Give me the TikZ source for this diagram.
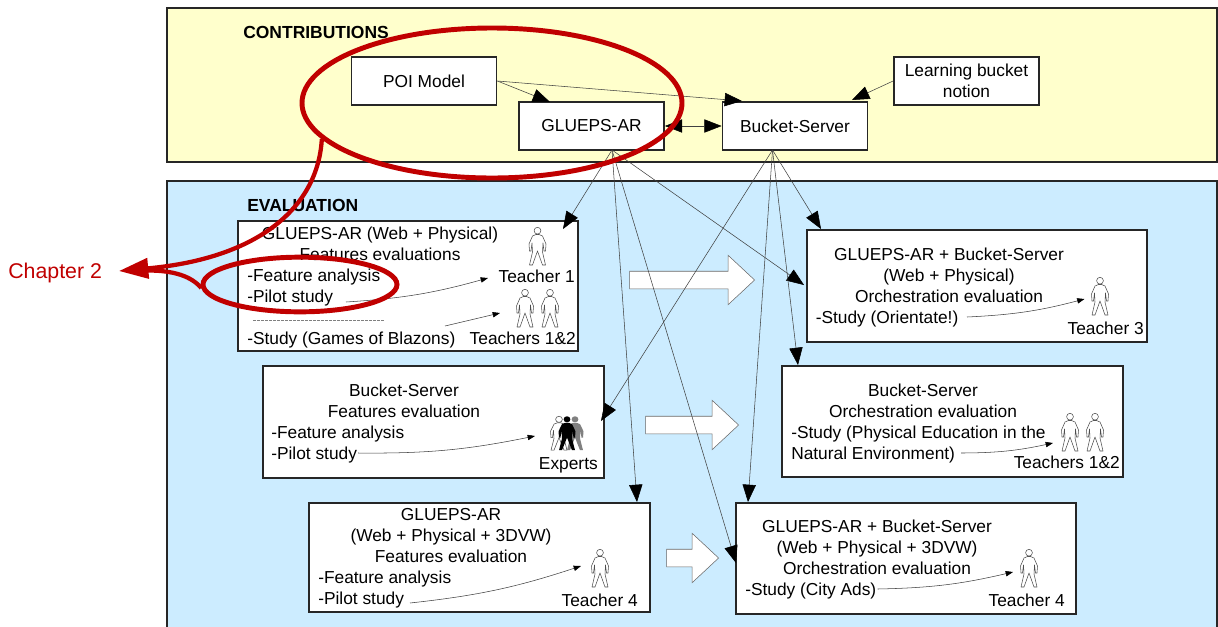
\documentclass[tikz,border=0pt]{standalone}
\usepackage{fontspec}
\setmainfont{Liberation Sans}
\usetikzlibrary{arrows.meta,shapes.geometric,shapes.arrows}
\definecolor{contribyellow}{RGB}{255,255,204}
\definecolor{evalblue}{RGB}{204,236,255}
\definecolor{ringred}{RGB}{192,0,0}
\tikzset{
	panel/.style={draw=black!85, line width=1.1pt},
	whitebox/.style={draw=black!85, fill=white, line width=1.1pt, inner sep=0pt},
	label/.style={font=\fontsize{13}{15.75}\selectfont, inner sep=0pt, align=center},
	leftlabel/.style={label, align=left, anchor=west},
	rightlabel/.style={label, anchor=east},
	heading/.style={font=\fontsize{13.1}{15}\selectfont\bfseries, inner sep=0pt, anchor=west},
	conn/.style={draw=black!75, line width=.4pt, -{Triangle[length=13pt,width=10pt,color=black]}},
	flow/.style={draw=black!75, line width=.4pt, -{Triangle[length=5.5pt,width=4pt,color=black]}},
	bigarrow/.style={single arrow, draw=black!60, fill=white, line width=.4pt, inner sep=0pt, anchor=tip,
		text height=12.75pt, text depth=0pt, text width=0pt, single arrow head extend=12pt, single arrow tip angle=86},
	ring/.style={ellipse, draw=ringred, line width=3.7pt, inner sep=0pt},
	chapterlink/.style={draw=ringred, line width=3.2pt},
	pics/person/.style={code={
		\filldraw[draw=#1, fill=white, line width=.4pt, line join=round] (-1.5,7.5) -- (-5,9) -- (-8.5,17) -- (-8,24) -- (-6.5,24) -- (-5.5,16)
			-- (-5,25) -- (-8,38) -- (-5,38) -- (0,24) -- (5,38) -- (8,38) -- (5,25) -- (5.5,16) -- (6.5,24) -- (8,24) -- (8.5,17) -- (5,9) -- (1.5,7.5) -- cycle;
		\filldraw[draw=#1, fill=white, line width=.4pt] (0,3.7) circle [radius=3.4];
	}},
	pics/person/.default=black!70,
	pics/personfilled/.style={code={
		\fill[#1] (-1.5,7.5) -- (-5,9) -- (-8.5,17) -- (-8,24) -- (-6.5,24) -- (-5.5,16)
			-- (-5,25) -- (-8,38) -- (-5,38) -- (0,24) -- (5,38) -- (8,38) -- (5,25) -- (5.5,16) -- (6.5,24) -- (8,24) -- (8.5,17) -- (5,9) -- (1.5,7.5) -- cycle;
		\fill[#1] (0,3.7) circle [radius=3.4];
	}}
}
\begin{document}
\begin{tikzpicture}[x=.75pt, y=-.75pt]
	\useasboundingbox (0,0) rectangle (1218,626);
	\draw[panel, fill=contribyellow] (167,8) rectangle (1217,162);
	\path[fill=evalblue] (167,181) rectangle (1218,630);
	\draw[panel] (167,630) -- (167,181) -- (1217,181) -- (1217,630);

	\node[heading] (contribhead) at (243,32) {CONTRIBUTIONS};
	\node[heading] (evalhead) at (247,205) {EVALUATION};

	\node[whitebox, label, minimum width=109pt, minimum height=36pt] (poi) at (424,81) {POI Model};
	\node[whitebox, label, minimum width=109pt, minimum height=36pt] (glueps) at (591.5,126) {GLUEPS-AR};
	\node[whitebox, label, minimum width=109pt, minimum height=36pt] (bucketsrv) at (795,126) {Bucket-Server};
	\node[whitebox, label, minimum width=109pt, minimum height=36pt] (learning) at (966.5,81) {Learning bucket\\notion};

	\node[whitebox, minimum width=255pt, minimum height=97.5pt] (featboth) at (408,286) {};
	\node[whitebox, minimum width=255pt, minimum height=84pt] (orchboth) at (977,286) {};
	\node[whitebox, minimum width=255.5pt, minimum height=84pt] (featbucket) at (433.5,422) {};
	\node[whitebox, minimum width=255.5pt, minimum height=83pt] (orchbucket) at (952.5,421.5) {};
	\node[whitebox, minimum width=255.5pt, minimum height=82pt] (feat3d) at (479.5,557.5) {};
	\node[whitebox, minimum width=255pt, minimum height=83pt] (orch3d) at (906,558.5) {};

	\node[bigarrow, minimum height=93.75pt] (stepone) at (755,280) {};
	\node[bigarrow, minimum height=69.75pt] (steptwo) at (739,425) {};
	\node[bigarrow, minimum height=39pt] (stepthree) at (719,558) {};

	\coordinate (gluepsout) at (612,150);
	\coordinate (bucketout) at (772.5,150);
	\coordinate (tipfeatboth) at (563,229);
	\coordinate (tiporchboth) at (804,285);
	\coordinate (tipfeat3d) at (637,502);
	\coordinate (tiporch3d) at (736,563);
	\coordinate (tipbucketboth) at (821,229);
	\coordinate (tipfeatbucket) at (601,421);
	\coordinate (tiporchbucket) at (798,365);
	\coordinate (tipbucket3d) at (748,502);
	\coordinate (tipglueps) at (550,102);
	\coordinate (tipbucketpoi) at (742,101);
	\coordinate (tipbucketlearn) at (852,100);

	\draw[conn] (poi.east) -- (tipglueps);
	\draw[conn] (poi.east) -- (tipbucketpoi);
	\draw[conn] (learning.west) -- (tipbucketlearn);
	\draw[conn, {Triangle[length=13pt,width=10pt,color=black]}-{Triangle[length=13pt,width=10pt,color=black]}] (glueps.east) -- (bucketsrv.west);
	\draw[conn] (gluepsout) -- (tipfeatboth);
	\draw[conn] (gluepsout) -- (tiporchboth);
	\draw[conn] (gluepsout) -- (tipfeat3d);
	\draw[conn] (gluepsout) -- (tiporch3d);
	\draw[conn] (bucketout) -- (tipbucketboth);
	\draw[conn] (bucketout) -- (tipfeatbucket);
	\draw[conn] (bucketout) -- (tiporchbucket);
	\draw[conn] (bucketout) -- (tipbucket3d);

	\node[label] (titleA) at (380,243.5) {GLUEPS-AR (Web + Physical)\\Features evaluations};
	\node[leftlabel] (listA) at (247,287.5) {-Feature analysis\\-Pilot study};
	\node[leftlabel] (studyA) at (247,340) {-Study (Games of Blazons)};
	\node[rightlabel] (teacherA) at (575,276) {Teacher 1};
	\node[rightlabel] (teachersA) at (576,338) {Teachers 1\&2};
	\draw[gray, dash pattern=on 2pt off 1pt, line width=.4pt] (253,320) -- (384,320);

	\node[label] (titleB) at (949,275) {GLUEPS-AR + Bucket-Server\\(Web + Physical)\\Orchestration evaluation};
	\node[leftlabel] (studyB) at (815.5,319) {-Study (Orientate!)};
	\node[rightlabel] (teacherB) at (1144,328) {Teacher 3};

	\node[label] (titleC) at (404,400.5) {Bucket-Server\\Features evaluation};
	\node[leftlabel] (listC) at (271,444.5) {-Feature analysis\\-Pilot study};
	\node[rightlabel] (expertsC) at (598,465) {Experts};

	\node[label] (titleD) at (923,400.5) {Bucket-Server\\Orchestration evaluation};
	\node[leftlabel] (studyD) at (791,444.5) {-Study (Physical Education in the\\Natural Environment)};
	\node[rightlabel] (teachersD) at (1120,462) {Teachers 1\&2};

	\node[label] (titleE) at (451,536) {GLUEPS-AR\\(Web + Physical + 3DVW)\\Features evaluation};
	\node[leftlabel] (listE) at (318,589.5) {-Feature analysis\\-Pilot study};
	\node[rightlabel] (teacherE) at (638,600) {Teacher 4};

	\node[label] (titleF) at (877,547) {GLUEPS-AR + Bucket-Server\\(Web + Physical + 3DVW)\\Orchestration evaluation};
	\node[leftlabel] (studyF) at (745,591) {-Study (City Ads)};
	\node[rightlabel] (teacherF) at (1065,600) {Teacher 4};

	\pic at (537.5,227) {person};
	\pic at (525,289) {person};
	\pic at (550,289) {person};
	\pic at (1100,277) {person};
	\pic at (1070,413) {person};
	\pic at (1095,413) {person};
	\pic at (600,549) {person};
	\pic at (1029,549) {person};
	\pic[yscale=.9] at (559,416) {person};
	\pic[yscale=.9] at (575,416) {personfilled=gray};
	\pic[yscale=.9] at (567,416) {personfilled=black};

	\coordinate (startA) at (346,302);
	\coordinate (endA) at (488,278);
	\coordinate (startA2) at (445,326);
	\coordinate (endA2) at (500,313);
	\coordinate (startB) at (967,317);
	\coordinate (endB) at (1084.5,299);
	\coordinate (startC) at (358,453);
	\coordinate (endC) at (535,436);
	\coordinate (startD) at (961,453);
	\coordinate (endD) at (1053,443);
	\coordinate (startE) at (410,603);
	\coordinate (endE) at (581,566);
	\coordinate (startF) at (877.5,589);
	\coordinate (endF) at (1013,572);
	\draw[flow] (startA) to[bend right=6] (endA);
	\draw[flow] (startA2) -- (endA2);
	\draw[flow] (startB) to[bend right=6] (endB);
	\draw[flow] (startC) to[bend right=6] (endC);
	\draw[flow] (startD) to[bend right=6] (endD);
	\draw[flow] (startE) to[bend right=6] (endE);
	\draw[flow] (startF) to[bend right=6] (endF);

	\node[ring, minimum width=285pt, minimum height=112.5pt] (bigring) at (492,103) {};
	\node[ring, minimum width=145.5pt, minimum height=41pt] (smallring) at (300,284.5) {};
	\node[font=\fontsize{16}{19}\selectfont, text=ringred, inner sep=0pt, anchor=west] (chapter) at (8,273) {Chapter 2};
	\coordinate (chaptertip) at (119,271);
	\draw[chapterlink, -{Triangle[length=22pt,width=15pt,color=ringred]}] (bigring.192) .. controls (318,205) and (262,258) .. (chaptertip);
	\draw[chapterlink] (smallring.182) .. controls (192,277) and (175,270) .. (145,270.5);
\end{tikzpicture}
\end{document}
